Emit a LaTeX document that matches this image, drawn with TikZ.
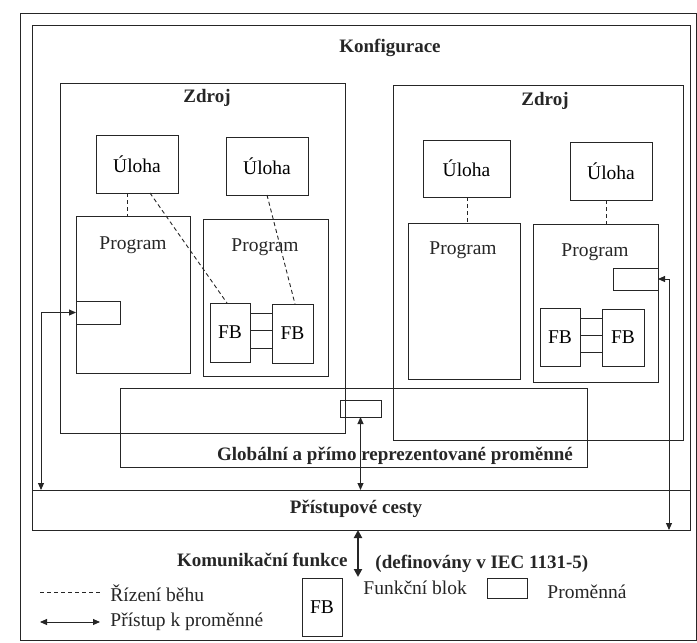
\documentclass[tikz,border=0pt]{standalone}
\usepackage{fontspec}
\setmainfont{Liberation Serif}
\usetikzlibrary{arrows.meta}
\newcommand\bx[6]{\node[box, minimum width={#4-#2}, minimum height={#5-#3}] (#1) at (#2,#3) {#6};}
\begin{document}
\begin{tikzpicture}[x=1pt,y=-1pt, line width=0.9pt, draw=black!85,
  box/.style={draw=black!85, inner sep=0pt, outer sep=0pt, anchor=north west, font=\fontsize{19.5}{22}\selectfont},
  txt/.style={font=\fontsize{19.5}{22}\selectfont, inner sep=0pt, text=black!85},
  btxt/.style={font=\fontsize{19}{22}\selectfont\bfseries, inner sep=0pt, text=black!85},
  ctrl/.style={draw=black!85, dash pattern=on 4pt off 3pt},
  acc/.style={draw=black!85, {Triangle[length=7pt,width=6pt]}-{Triangle[length=7pt,width=6pt]}}
]
\useasboundingbox (0,0) rectangle (697,643);
% frames
\bx{outer}{20}{13}{696}{640}{}
\bx{konf}{32}{25}{690}{530}{}
\bx{cesty}{32}{490}{690}{530}{}
\bx{zdrojL}{60}{83}{345}{433}{}
\bx{zdrojR}{393}{85}{683}{440}{}
\bx{glob}{120}{388}{587}{467}{}
% tasks
\bx{ulL1}{96}{135}{178}{193}{Úloha}
\bx{ulL2}{226}{137}{308}{195}{Úloha}
\bx{ulR1}{423}{140}{510}{197}{Úloha}
\bx{ulR2}{570}{142}{652}{200}{Úloha}
% programs
\bx{prL1}{76}{216}{190}{373}{}
\bx{prL2}{203}{219}{328}{376}{}
\bx{prR1}{408}{223}{520}{379}{}
\bx{prR2}{533}{224}{658}{382}{}
\node[txt] (tpL1) at (133,245) {Program};
\node[txt] (tpL2) at (265,247) {Program};
\node[txt] (tpR1) at (463,250) {Program};
\node[txt] (tpR2) at (595,252) {Program};
% variables
\bx{varL}{76}{301}{120}{324}{}
\bx{varR}{613}{268}{658}{290}{}
\bx{varG}{340}{400}{381}{417}{}
% function blocks
\bx{fbL1}{210}{303}{250}{362}{FB}
\bx{fbL2}{272}{304}{313}{363}{FB}
\bx{fbR1}{540}{308}{580}{366}{FB}
\bx{fbR2}{602}{309}{644}{366}{FB}
\foreach \yy in {313,330,348} \draw (fbL1.east |- 0,\yy) -- (fbL2.west |- 0,\yy);
\foreach \yy in {318,335,352} \draw (fbR1.east |- 0,\yy) -- (fbR2.west |- 0,\yy);
% labels
\node[btxt] (konfT) at (390,48) {Konfigurace};
\node[btxt] (zdrLT) at (207,98) {Zdroj};
\node[btxt] (zdrRT) at (545,101) {Zdroj};
\node[btxt] (globT) at (395,456) {Globální a přímo reprezentované proměnné};
\node[btxt] (cestT) at (356,509) {Přístupové cesty};
\node[btxt, anchor=east] (komT) at (348,560) {Komunikační funkce};
\node[btxt, anchor=west] (defT) at (375,564) {(definovány v IEC 1131-5)};
% control flow (dashed)
\draw[ctrl] (ulL1.south -| 127,0) -- (prL1.north -| 127,0);
\draw[ctrl] (ulL1.south -| 150,0) -- (fbL1.north -| 227,0);
\draw[ctrl] (ulL2.south -| 267,0) -- (fbL2.north -| 295,0);
\draw[ctrl] (ulR1.south -| 467,0) -- (prR1.north -| 467,0);
\draw[ctrl] (ulR2.south -| 606,0) -- (prR2.north -| 606,0);
% variable access
\coordinate (cL) at (41,490);
\draw[acc] (varL.west) -| (cL);
\draw[acc] (varG.south) -- (varG.south |- cesty.north);
\coordinate (cR) at (669,530);
\draw[acc] (varR.east) -| (cR);
\coordinate (komE) at (358,577);
\draw[acc, line width=2.2pt, {Triangle[length=8pt,width=8pt]}-{Triangle[length=8pt,width=8pt]}] (cesty.south -| komE) -- (komE);
% legend
\coordinate (d1) at (40,592); \coordinate (d2) at (100,592);
\draw[ctrl] (d1) -- (d2);
\node[txt, anchor=west] (legC) at (110,593) {Řízení běhu};
\coordinate (a1) at (40,622); \coordinate (a2) at (100,622);
\draw[acc] (a1) -- (a2);
\node[txt, anchor=west] (legA) at (110,622) {Přístup k proměnné};
\bx{fbLeg}{302}{578}{342}{636}{FB}
\node[txt, anchor=west] (legF) at (363,588) {Funkční blok};
\bx{varLeg}{487}{578}{527}{598}{}
\node[txt, anchor=west] (legV) at (547,592) {Proměnná};
\end{tikzpicture}
\end{document}
